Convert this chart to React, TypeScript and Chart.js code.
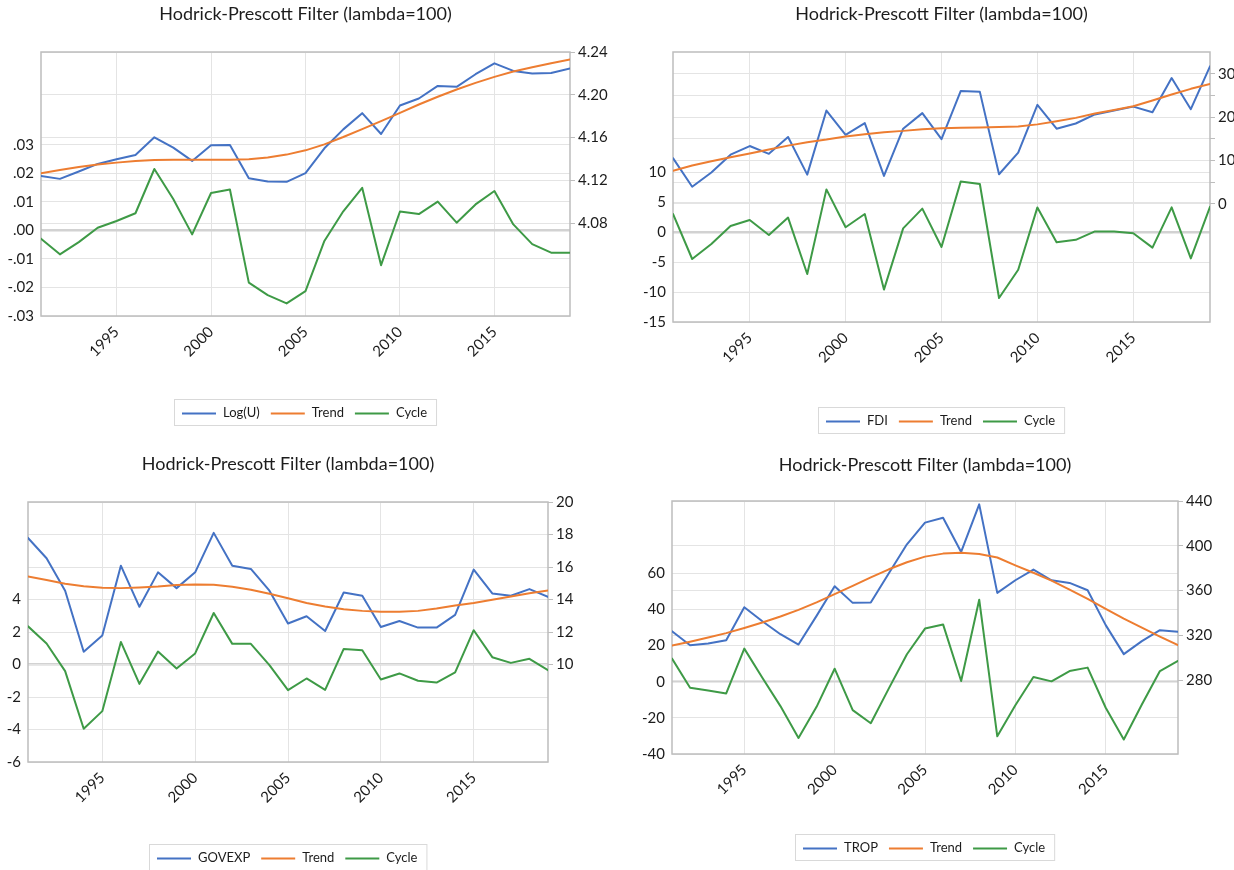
import React, { useEffect, useRef } from 'react';
import { Chart, registerables } from 'chart.js';

Chart.register(...registerables);

// ---------- data ----------
const years = [1991, 1992, 1993, 1994, 1995, 1996, 1997, 1998, 1999, 2000, 2001, 2002, 2003, 2004, 2005, 2006, 2007, 2008, 2009, 2010, 2011, 2012, 2013, 2014, 2015, 2016, 2017, 2018, 2019];
const xTicks = [1995, 2000, 2005, 2010, 2015];

const logU = [4.1241, 4.1213, 4.1282, 4.1353, 4.1397, 4.1437, 4.1602, 4.1505, 4.1381, 4.1527, 4.153, 4.1219, 4.1188, 4.1185, 4.1266, 4.1499, 4.1676, 4.1828, 4.1633, 4.19, 4.1965, 4.2083, 4.2074, 4.2192, 4.2294, 4.2223, 4.2198, 4.2204, 4.2245];
const logUTrend = [4.1266, 4.1297, 4.1325, 4.1347, 4.1365, 4.1381, 4.139, 4.1393, 4.1393, 4.1393, 4.1393, 4.1397, 4.1412, 4.144, 4.148, 4.1536, 4.1605, 4.1679, 4.1754, 4.1831, 4.1909, 4.1981, 4.2049, 4.2111, 4.2167, 4.2217, 4.2257, 4.2294, 4.2329];
const logUCycle = [-0.0029, -0.0084, -0.0041, 0.0009, 0.0033, 0.006, 0.0215, 0.011, -0.0014, 0.0131, 0.0143, -0.0183, -0.0227, -0.0256, -0.0213, -0.0037, 0.0067, 0.0149, -0.0122, 0.0066, 0.0057, 0.0101, 0.0027, 0.0091, 0.0138, 0.0021, -0.0048, -0.0078, -0.0078];
const logULeftTicks = [-0.03, -0.02, -0.01, 0, 0.01, 0.02, 0.03];
const logURightTicks = [4.08, 4.12, 4.16, 4.2, 4.24];

const fdi = [10.5, 3.9, 7.2, 11.3, 13.3, 11.5, 15.4, 6.7, 21.5, 15.9, 18.6, 6.4, 17.3, 20.9, 14.9, 26.0, 25.8, 6.8, 11.8, 22.8, 17.3, 18.5, 20.6, 21.5, 22.4, 21.1, 29.0, 21.8, 31.7];
const fdiTrend = [7.6, 8.8, 9.8, 10.7, 11.6, 12.5, 13.4, 14.2, 14.8, 15.5, 16.0, 16.5, 16.8, 17.2, 17.4, 17.5, 17.6, 17.7, 17.8, 18.3, 19.0, 19.8, 20.8, 21.6, 22.5, 23.8, 25.2, 26.5, 27.6];
const fdiCycle = [3.0, -4.5, -2.0, 1.0, 2.0, -0.5, 2.4, -7.0, 7.1, 0.8, 3.0, -9.6, 0.6, 3.9, -2.5, 8.4, 8.0, -11.0, -6.3, 4.1, -1.7, -1.3, 0.1, 0.1, -0.2, -2.6, 4.1, -4.4, 4.2];
const fdiLeftTicks = [-15, -10, -5, 0, 5, 10];
const fdiRightTicks = [0, 5, 10, 15, 20, 25, 30];
const fdiRightLabels = [0, 10, 20, 30];

const govexp = [17.79, 16.54, 14.54, 10.78, 11.79, 16.08, 13.55, 15.67, 14.7, 15.67, 18.1, 16.08, 15.88, 14.54, 12.52, 12.97, 12.06, 14.43, 14.23, 12.31, 12.68, 12.27, 12.27, 13.05, 15.84, 14.37, 14.23, 14.64, 14.16];
const govexpTrend = [15.42, 15.2, 14.97, 14.82, 14.72, 14.7, 14.74, 14.8, 14.89, 14.93, 14.91, 14.78, 14.6, 14.35, 14.08, 13.79, 13.57, 13.4, 13.3, 13.24, 13.24, 13.3, 13.44, 13.63, 13.79, 13.98, 14.19, 14.39, 14.56];
const govexpCycle = [2.35, 1.29, -0.41, -3.95, -2.87, 1.39, -1.19, 0.8, -0.25, 0.68, 3.17, 1.27, 1.27, -0.04, -1.58, -0.86, -1.56, 0.96, 0.88, -0.92, -0.55, -1.0, -1.11, -0.49, 2.11, 0.45, 0.1, 0.35, -0.35];
const govexpLeftTicks = [-6, -4, -2, 0, 2, 4];
const govexpRightTicks = [10, 12, 14, 16, 18, 20];

const trop = [323.7, 311.2, 312.7, 315.7, 345.1, 332.6, 321.0, 311.8, 337.4, 363.9, 349.0, 349.3, 375.5, 401.3, 420.7, 425.1, 394.5, 437.0, 357.9, 369.2, 378.7, 369.2, 366.8, 360.3, 329.1, 303.2, 314.8, 324.6, 323.1];
const tropTrend = [310.8, 314.3, 318.0, 322.0, 326.6, 331.5, 336.8, 342.7, 349.5, 356.8, 364.2, 371.7, 379.0, 385.3, 390.3, 393.0, 393.8, 392.6, 389.5, 382.5, 375.9, 368.9, 360.8, 352.5, 343.7, 335.0, 326.9, 318.9, 311.2];
const tropCycle = [12.8, -3.3, -4.8, -6.5, 18.3, 2.2, -13.5, -31.1, -13.9, 7.2, -15.7, -23.0, -3.7, 15.2, 29.4, 31.7, 0.4, 45.4, -30.2, -13.0, 2.6, 0.2, 5.9, 7.8, -14.4, -32.0, -12.6, 5.9, 11.5];
const tropLeftTicks = [-40, -20, 0, 20, 40, 60];
const tropRightTicks = [280, 320, 360, 400, 440];

const titleText = 'Hodrick-Prescott Filter (lambda=100)';

// ---------- style ----------
const FONT = 'Lato';
const BLUE = '#4472C4';
const ORANGE = '#ED7D31';
const GREEN = '#3E9A46';
const GRID = '#e4e4e4';
const ZERO = '#d2d2d2';
const FRAME = '#bdbdbd';
const TEXT = '#1c1c1c';
const RW = 45;
const XH = 60;

type PanelCfg = {
  canvas: { left: number; top: number; w: number; h: number };
  plot: { l: number; t: number; r: number; b: number };
  titleY: number;
  legendY: number;
  seriesName: string;
  series: number[];
  trend: number[];
  cycle: number[];
  leftMin: number;
  leftMax: number;
  rightMin: number;
  rightMax: number;
  leftTicks: number[];
  rightTicks: number[];
  rightLabelVals: number[];
  leftFmt: (v: number) => string;
  rightFmt: (v: number) => string;
};

const decimalFmt = (v: number) => (v < 0 ? '-' : '') + Math.abs(v).toFixed(2).replace(/^0/, '');
const intFmt = (v: number) => String(Math.round(v));

const panels: PanelCfg[] = [
  {
    canvas: { left: 0, top: 0, w: 617, h: 435 },
    plot: { l: 41, t: 52, r: 570, b: 316 },
    titleY: 14,
    legendY: 399,
    seriesName: 'Log(U)',
    series: logU,
    trend: logUTrend,
    cycle: logUCycle,
    leftMin: -0.03,
    leftMax: 0.0625,
    rightMin: 3.993,
    rightMax: 4.24,
    leftTicks: logULeftTicks,
    rightTicks: logURightTicks,
    rightLabelVals: logURightTicks,
    leftFmt: decimalFmt,
    rightFmt: (v) => v.toFixed(2),
  },
  {
    canvas: { left: 617, top: 0, w: 660, h: 435 },
    plot: { l: 673, t: 52, r: 1210, b: 322 },
    titleY: 14,
    legendY: 407,
    seriesName: 'FDI',
    series: fdi,
    trend: fdiTrend,
    cycle: fdiCycle,
    leftMin: -15,
    leftMax: 30,
    rightMin: -27.3,
    rightMax: 35,
    leftTicks: fdiLeftTicks,
    rightTicks: fdiRightTicks,
    rightLabelVals: fdiRightLabels,
    leftFmt: intFmt,
    rightFmt: intFmt,
  },
  {
    canvas: { left: 0, top: 435, w: 617, h: 435 },
    plot: { l: 28, t: 502, r: 548, b: 762 },
    titleY: 464,
    legendY: 844,
    seriesName: 'GOVEXP',
    series: govexp,
    trend: govexpTrend,
    cycle: govexpCycle,
    leftMin: -6,
    leftMax: 10,
    rightMin: 4,
    rightMax: 20,
    leftTicks: govexpLeftTicks,
    rightTicks: govexpRightTicks,
    rightLabelVals: govexpRightTicks,
    leftFmt: intFmt,
    rightFmt: intFmt,
  },
  {
    canvas: { left: 617, top: 435, w: 660, h: 435 },
    plot: { l: 672, t: 501, r: 1178, b: 754 },
    titleY: 465,
    legendY: 834,
    seriesName: 'TROP',
    series: trop,
    trend: tropTrend,
    cycle: tropCycle,
    leftMin: -40,
    leftMax: 100,
    rightMin: 214,
    rightMax: 440,
    leftTicks: tropLeftTicks,
    rightTicks: tropRightTicks,
    rightLabelVals: tropRightTicks,
    leftFmt: intFmt,
    rightFmt: intFmt,
  },
];

const decorPlugin = {
  id: 'decor',
  beforeDatasetsDraw(chart: any) {
    const { ctx, chartArea: a } = chart;
    ctx.save();
    ctx.strokeStyle = FRAME;
    ctx.lineWidth = 1.5;
    ctx.strokeRect(a.left, a.top, a.right - a.left, a.bottom - a.top);
    ctx.restore();
  },
  afterDraw(chart: any, _args: any, opts: any) {
    const { ctx, chartArea: a } = chart;
    const cx = (a.left + a.right) / 2;
    ctx.save();
    ctx.fillStyle = TEXT;
    ctx.textAlign = 'center';
    ctx.textBaseline = 'middle';
    ctx.font = `18px ${FONT}`;
    ctx.fillText(opts.title, cx, opts.titleY);

    ctx.font = `13px ${FONT}`;
    const items = opts.items as { label: string; color: string }[];
    const widths = items.map((it) => ctx.measureText(it.label).width);
    const lineW = 34, gapLT = 7, gapItem = 11, padL = 8, padR = 9;
    let total = padL + padR + gapItem * (items.length - 1);
    widths.forEach((w) => (total += lineW + gapLT + w));
    const x0 = Math.round(cx - total / 2);
    const y0 = opts.legendY;
    const h = 26;
    ctx.strokeStyle = '#d9d9d9';
    ctx.lineWidth = 1;
    ctx.strokeRect(x0 + 0.5, y0 + 0.5, total, h);
    let x = x0 + padL;
    const yc = y0 + h / 2 + 1;
    ctx.textAlign = 'left';
    items.forEach((it, i) => {
      ctx.strokeStyle = it.color;
      ctx.lineWidth = 2;
      ctx.beginPath();
      ctx.moveTo(x, yc + 0.5);
      ctx.lineTo(x + lineW, yc + 0.5);
      ctx.stroke();
      x += lineW + gapLT;
      ctx.fillStyle = TEXT;
      ctx.fillText(it.label, x, yc - 0.5);
      x += widths[i] + gapItem;
    });
    ctx.restore();
  },
};

function toPoints(vals: number[]) {
  return years.map((yr, i) => ({ x: yr, y: vals[i] }));
}

function Panel({ cfg }: { cfg: PanelCfg }) {
  const ref = useRef<HTMLCanvasElement | null>(null);
  useEffect(() => {
    const canvas = ref.current;
    if (!canvas) return;
    const c = cfg.canvas;
    const p = cfg.plot;
    const leftW = p.l - c.left;
    const padding = {
      left: 0,
      right: c.left + c.w - p.r - RW,
      top: p.t - c.top,
      bottom: c.top + c.h - p.b - XH,
    };
    const lineDs = (label: string, vals: number[], color: string, axis: string, order: number) => ({
      label,
      data: toPoints(vals),
      borderColor: color,
      backgroundColor: color,
      borderWidth: 2,
      pointRadius: 0,
      tension: 0,
      yAxisID: axis,
      order,
      borderJoinStyle: 'round' as const,
      borderCapStyle: 'round' as const,
    });
    const chart = new Chart(canvas, {
      type: 'line',
      data: {
        datasets: [
          lineDs(cfg.seriesName, cfg.series, BLUE, 'yR', 3),
          lineDs('Trend', cfg.trend, ORANGE, 'yR', 2),
          lineDs('Cycle', cfg.cycle, GREEN, 'yL', 1),
        ],
      },
      plugins: [decorPlugin],
      options: {
        animation: false,
        responsive: false,
        devicePixelRatio: 1,
        layout: { padding },
        font: { family: FONT },
        plugins: {
          legend: { display: false },
          title: { display: false },
          tooltip: { enabled: false },
          decor: {
            title: titleText,
            titleY: cfg.titleY - c.top,
            legendY: cfg.legendY - c.top,
            items: [
              { label: cfg.seriesName, color: BLUE },
              { label: 'Trend', color: ORANGE },
              { label: 'Cycle', color: GREEN },
            ],
          },
        } as any,
        scales: {
          x: {
            type: 'linear',
            min: years[0],
            max: years[years.length - 1],
            afterBuildTicks: (axis: any) => {
              axis.ticks = xTicks.map((v) => ({ value: v }));
            },
            afterFit: (scale: any) => {
              scale.height = XH;
            },
            grid: { color: GRID, lineWidth: 1, drawTicks: false },
            border: { display: false },
            ticks: {
              autoSkip: false,
              minRotation: 45,
              maxRotation: 45,
              padding: 7,
              color: TEXT,
              font: { family: FONT, size: 15 },
              callback: (v: any) => String(v),
            },
          },
          yL: {
            type: 'linear',
            position: 'left',
            min: cfg.leftMin,
            max: cfg.leftMax,
            afterBuildTicks: (axis: any) => {
              axis.ticks = cfg.leftTicks.map((v) => ({ value: v }));
            },
            afterFit: (scale: any) => {
              scale.width = leftW;
            },
            grid: {
              drawTicks: false,
              color: (ctx: any) => (ctx.tick && ctx.tick.value === 0 ? ZERO : GRID),
              lineWidth: (ctx: any) => (ctx.tick && ctx.tick.value === 0 ? 2.5 : 1),
            },
            border: { display: false },
            ticks: {
              autoSkip: false,
              padding: 7,
              color: TEXT,
              font: { family: FONT, size: 15 },
              callback: (v: any) => cfg.leftFmt(Number(v)),
            },
          },
          yR: {
            type: 'linear',
            position: 'right',
            min: cfg.rightMin,
            max: cfg.rightMax,
            afterBuildTicks: (axis: any) => {
              axis.ticks = cfg.rightTicks.map((v) => ({ value: v }));
            },
            afterFit: (scale: any) => {
              scale.width = RW;
            },
            grid: {
              drawTicks: true,
              tickLength: 5,
              tickColor: FRAME,
              color: GRID,
              lineWidth: 1,
            },
            border: { display: false },
            ticks: {
              autoSkip: false,
              padding: 3,
              color: TEXT,
              font: { family: FONT, size: 15 },
              callback: (v: any) => {
                const n = Number(v);
                return cfg.rightLabelVals.some((r) => Math.abs(r - n) < 1e-9) ? cfg.rightFmt(n) : '';
              },
            },
          },
        },
      } as any,
    });
    return () => chart.destroy();
  }, [cfg]);
  const c = cfg.canvas;
  return (
    <canvas
      ref={ref}
      width={c.w}
      height={c.h}
      style={{ position: 'absolute', left: c.left, top: c.top, width: c.w, height: c.h }}
    />
  );
}

export default function App() {
  return (
    <div
      style={{
        position: 'fixed',
        left: 0,
        top: 0,
        width: 1234,
        height: 870,
        overflow: 'hidden',
        background: '#ffffff',
      }}
    >
      {panels.map((cfg, i) => (
        <Panel key={i} cfg={cfg} />
      ))}
    </div>
  );
}
